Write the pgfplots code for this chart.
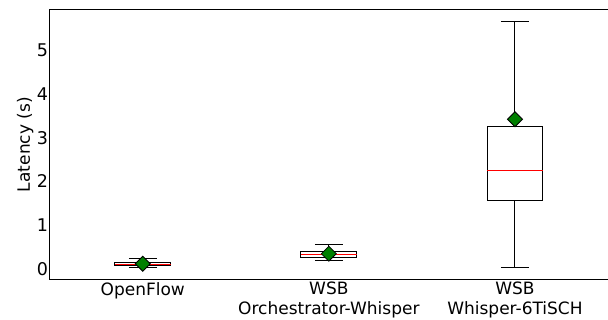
\documentclass[border=0pt]{standalone}
\usepackage{fontspec}
\setmainfont{DejaVu Sans}
\usepackage{pgfplots}
\usepgfplotslibrary{statistics}
\pgfplotsset{compat=1.18}
\begin{document}
\fontsize{17pt}{19pt}\selectfont
\begin{tikzpicture}[x=1pt,y=1pt]
\begin{axis}[
  at={(49.7pt,40pt)}, anchor=south west,
  scale only axis, width=558.3pt, height=270.7pt,
  xmin=0.5, xmax=3.5, ymin=-0.25, ymax=5.93,
  xtick={1,2,3},
  xticklabels={OpenFlow, {WSB\\Orchestrator-Whisper}, {WSB\\Whisper-6TiSCH}},
  xticklabel style={align=center, font=\fontsize{17pt}{19.5pt}\selectfont, inner sep=2pt},
  ytick={0,1,2,3,4,5},
  yticklabel style={font=\fontsize{17.5pt}{19pt}\selectfont, inner sep=1.5pt},
  ylabel={Latency (s)},
  ylabel style={font=\fontsize{17pt}{19pt}\selectfont, yshift=-4pt},
  major tick length=0pt,
  axis line style={line width=1pt},
  /pgf/number format/assume math mode=true,
  boxplot/draw direction=y,
]
\addplot[black, line width=1pt, boxplot/every median/.style={red, line width=1pt},
  boxplot prepared={draw position=1, lower whisker=0.03, lower quartile=0.075, median=0.11, upper quartile=0.15, upper whisker=0.24, box extend=0.3, whisker extend=0.15}] coordinates {};
\addplot[black, line width=1pt, boxplot/every median/.style={red, line width=1pt},
  boxplot prepared={draw position=2, lower whisker=0.19, lower quartile=0.27, median=0.34, upper quartile=0.40, upper whisker=0.56, box extend=0.3, whisker extend=0.15}] coordinates {};
\addplot[black, line width=1pt, boxplot/every median/.style={red, line width=1pt},
  boxplot prepared={draw position=3, lower whisker=0.03, lower quartile=1.56, median=2.24, upper quartile=3.265, upper whisker=5.65, box extend=0.3, whisker extend=0.15}] coordinates {};
\addplot[only marks, mark=square*, mark size=5.3pt,
  mark options={rotate=45, fill=green!50!black, draw=black, line width=0.8pt}]
  coordinates {(1,0.12) (2,0.35) (3,3.42)};
\end{axis}
\pgfresetboundingbox
\path[use as bounding box] (0,0) rectangle (608,320);
\end{tikzpicture}
\end{document}
